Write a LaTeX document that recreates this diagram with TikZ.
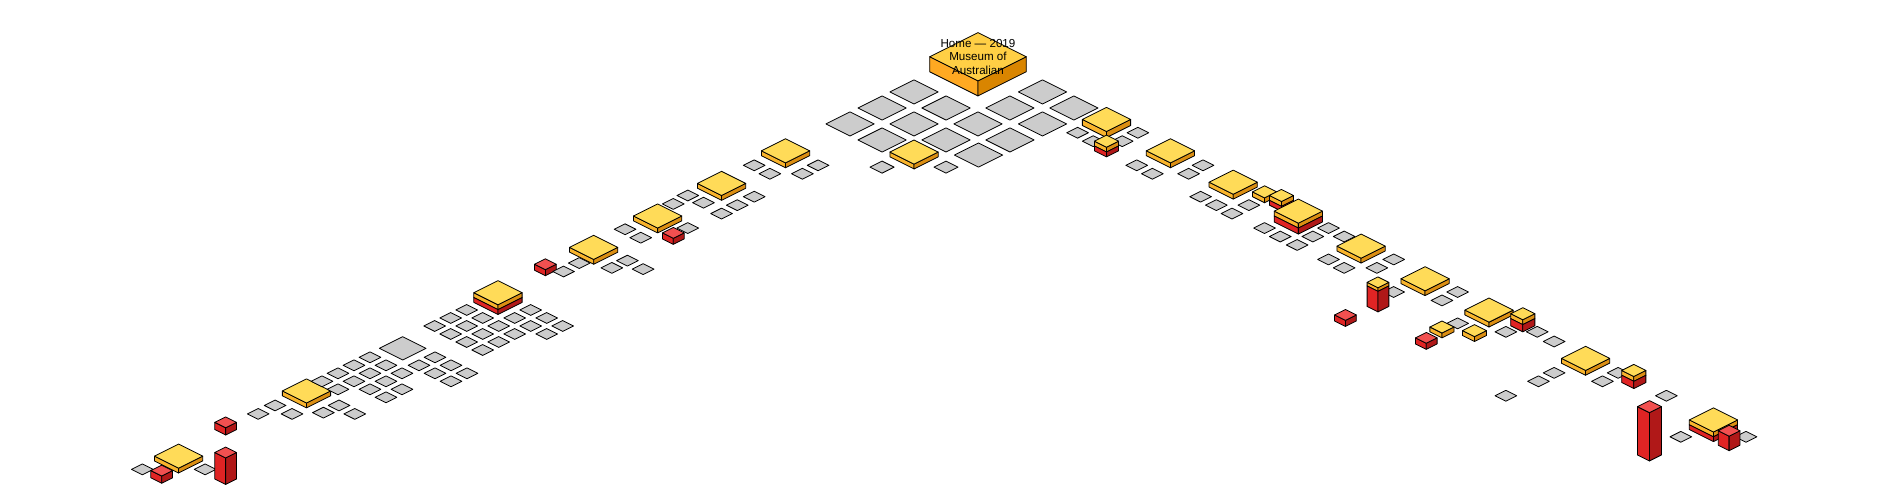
\documentclass[tikz,border=0pt]{standalone}
\usepackage{fontspec}
\setmainfont{Liberation Sans}
\begin{document}
\begin{tikzpicture}[x=0.02413cm,y=-0.02413cm,line width=0.45pt,line join=round]
\definecolor{gr}{HTML}{CCCCCC}
\definecolor{yt}{HTML}{FFDB58}\definecolor{yl}{HTML}{F9B42C}\definecolor{yr}{HTML}{DB8E12}
\definecolor{rt}{HTML}{F25050}\definecolor{rl}{HTML}{E02424}\definecolor{rr}{HTML}{B01818}
\definecolor{ht}{HTML}{FFCF45}\definecolor{hl}{HTML}{FFA922}\definecolor{hr}{HTML}{D98500}
\useasboundingbox (0,0) rectangle (1568,409.4);
\newcommand\slab[7]{%
 \filldraw[fill=#6] ({#1-#3},{#2+#4})--({#1},{#2+#3/2+#4})--({#1},{#2+#3/2+#5})--({#1-#3},{#2+#5})--cycle;
 \filldraw[fill=#7] ({#1+#3},{#2+#4})--({#1},{#2+#3/2+#4})--({#1},{#2+#3/2+#5})--({#1+#3},{#2+#5})--cycle;}
\newcommand\topd[4]{\filldraw[fill=#4] ({#1-#3},{#2})--({#1},{#2-#3/2})--({#1+#3},{#2})--({#1},{#2+#3/2})--cycle;}
\newcommand\tl[3]{\topd{#1}{#2}{#3}{gr}}
\newcommand\yb[4]{\slab{#1}{#2}{#3}{0}{#4}{yl}{yr}\topd{#1}{#2}{#3}{yt}}
\newcommand\yrb[5]{\slab{#1}{#2}{#3}{0}{#4}{yl}{yr}\slab{#1}{#2}{#3}{#4}{#4+#5}{rl}{rr}\topd{#1}{#2}{#3}{yt}}
\newcommand\rb[4]{\slab{#1}{#2}{#3}{0}{#4}{rl}{rr}\topd{#1}{#2}{#3}{rt}}
\newcommand\lat[3]{% x0 y0 list of i/j
 \foreach \i/\j in {#3}{%
  \pgfmathsetmacro\gx{#1+13.26*\i-13.26*\j}\pgfmathsetmacro\gy{#2+6.63*\i+6.63*\j}%
  \tl{\gx}{\gy}{9}}}
% ---- top grid
\foreach \x/\y in {757.5/76.2,731/89.5,784/89.5,704.5/102.7,757.5/102.7,810.5/102.7,731/116,784/116,811/128.5,837/89.5,837/116,864/76.2,864/102.7,890/89.5}{\tl{\x}{\y}{20}}
\yb{757.5}{126}{20}{4}
\tl{731}{138.5}{10}\tl{784}{138.5}{10}
% home
\slab{810.5}{47}{40}{0}{12.5}{hl}{hr}\topd{810.5}{47}{40}{ht}
\node[align=center,font=\fontsize{6.6pt}{7.6pt}\selectfont,inner sep=0] (home) at (810.5,47) {Home — 2019\\Museum of\\Australian};
% ---- left arm
\tl{118}{389}{9}\tl{170}{389}{9}
\yb{148}{378}{20}{4}
\rb{134}{390}{9}{6}
\rb{187}{375}{9}{22}
\rb{187}{350}{9}{6}
\tl{214}{343}{9}\tl{228}{336}{9}\tl{242}{343}{9}
\yb{254}{324}{20}{4}
\tl{268}{342}{9}\tl{281}{336}{9}\tl{294}{343}{9}
\tl{333.7}{288.7}{19.3}
\lat{306.6}{296.1}{0/0,1/0,0/1,2/0,1/1,0/2,2/1,1/2,0/3,3/1,2/2,1/3,3/2}
\lat{360.5}{296.1}{0/0,1/0,0/1,2/0,1/1,2/1}
\lat{386.8}{256.9}{0/0,0/1,1/0,0/2,1/1,2/0,1/2,2/1,2/2,3/1,3/2,2/-1,2/-2,3/-2,3/-1,4/-2,3/0,4/-1}
\yrb{412.7}{242.6}{20}{4}{4}
\rb{452}{219}{9}{5}
\tl{467}{225}{9}\tl{480}{218}{9}
\yb{492}{205}{20}{4}
\tl{507}{222}{9}\tl{520}{216}{9}\tl{533}{223}{9}
\tl{518}{190}{9}\tl{531}{197}{9}\tl{570}{189}{9}
\tl{558}{169}{9}\tl{570}{162}{9}\tl{583}{168}{9}
\yb{545}{179}{20}{4}
\rb{558}{193}{9}{5}
\tl{598}{177}{9}\tl{611}{170}{9}\tl{625}{163}{9}
\yb{598}{152}{20}{4}
\tl{625}{137}{9}\tl{638}{144}{9}\tl{665}{144}{9}\tl{678}{137}{9}
\yb{651}{125}{20}{4}
% ---- right arm
\tl{893}{110}{9}\tl{906}{117}{9}\tl{930}{117}{9}\tl{943}{110}{9}
\yb{917}{99}{20}{5}
\yrb{917}{117}{10}{4}{4}
\tl{942}{137}{9}\tl{955}{144}{9}\tl{985}{144}{9}\tl{997}{137}{9}
\yb{970}{125}{20}{4}
\tl{995}{163}{9}\tl{1008}{170}{9}\tl{1021}{177}{9}\tl{1035}{170}{9}
\yb{1022}{151}{20}{4}
\yb{1048}{159}{10}{4}
\yrb{1062}{162}{10}{4}{4}
\yrb{1076}{175}{20}{4}{5}
\tl{1048}{189}{9}\tl{1061}{196}{9}\tl{1075}{203}{9}\tl{1088}{196}{9}\tl{1101}{189}{9}\tl{1114}{196}{9}
\tl{1101}{215}{9}\tl{1114}{222}{9}\tl{1141}{222}{9}\tl{1155}{215}{9}
\yb{1128}{204}{20}{4}
\rb{1115}{261}{9}{5}
\tl{1155}{242}{9}\tl{1195}{249}{9}\tl{1208}{242}{9}
\yrb{1142}{234}{9}{3}{17}
\yb{1181}{231}{20}{4}
\tl{1208}{268}{9}\tl{1248}{275}{9}\tl{1274}{275}{9}\tl{1288}{283}{9}
\yb{1234}{257}{20}{4}
\yrb{1262}{260}{10}{4}{6}
\yb{1195}{271}{10}{4}
\yb{1222}{274}{10}{4}
\rb{1182}{280}{9}{5}
\tl{1275}{316}{9}\tl{1288}{309}{9}\tl{1328}{316}{9}\tl{1341}{309}{9}
\yb{1314}{297}{20}{4}
\yrb{1354}{307}{10}{4}{6}
\tl{1248}{328}{9}\tl{1381}{328}{9}
\tl{1393}{362}{9}\tl{1447}{362}{9}
\rb{1367}{337}{10}{40}
\yrb{1420}{348}{20}{4}{4}
\rb{1433}{357}{9}{12}
\end{tikzpicture}
\end{document}
